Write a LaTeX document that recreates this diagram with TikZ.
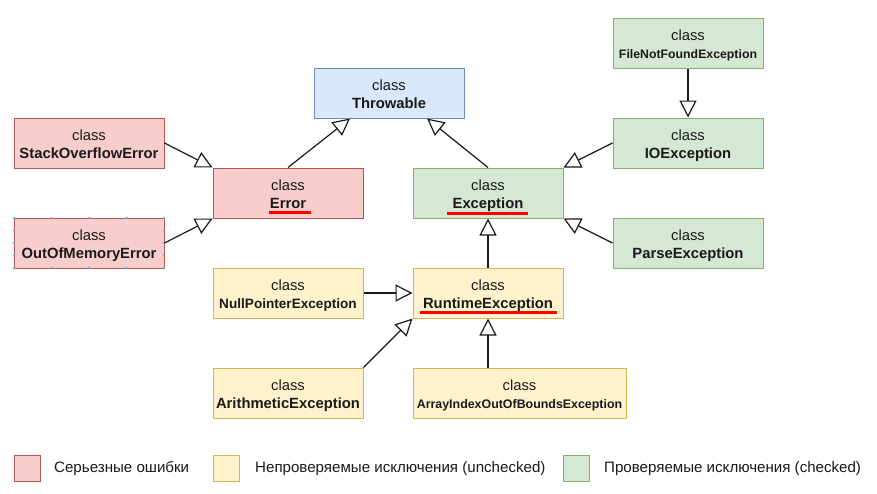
\documentclass[tikz,border=0pt]{standalone}
\usepackage{fontspec}
\setmainfont{Liberation Sans}
\usetikzlibrary{arrows.meta}
\definecolor{redF}{HTML}{F8CECC}\definecolor{redD}{HTML}{B85450}
\definecolor{bluF}{HTML}{DAE8FC}\definecolor{bluD}{HTML}{6C8EBF}
\definecolor{grnF}{HTML}{D5E8D4}\definecolor{grnD}{HTML}{82B366}
\definecolor{yelF}{HTML}{FFF2CC}\definecolor{yelD}{HTML}{D6B656}
\definecolor{selB}{HTML}{29B6F2}
\definecolor{txt}{HTML}{1A1A1A}
\newcommand\klass[2][14.8]{\rule{0pt}{16pt}class\\{\fontsize{#1}{18}\selectfont\textbf{#2}}\rule[-4pt]{0pt}{0pt}}
\begin{document}
\begin{tikzpicture}[x=1pt,y=-1pt,
  box/.style={rectangle, draw, line width=1pt, minimum width=150pt, minimum height=50pt,
    inner sep=0pt, align=center, font=\fontsize{14.8}{18}\selectfont, text=txt},
  redbox/.style={box, fill=redF, draw=redD},
  blubox/.style={box, fill=bluF, draw=bluD},
  grnbox/.style={box, fill=grnF, draw=grnD},
  yelbox/.style={box, fill=yelF, draw=yelD},
  inh/.style={draw=txt, line width=1.2pt, -{Triangle[open, length=17pt, width=17pt, fill=white]}},
  uline/.style={draw=red, line width=3pt},
  selpt/.style={fill=selB, inner sep=0pt, minimum size=2.2pt, circle},
  legsq/.style={rectangle, draw, line width=1pt, minimum size=26pt, inner sep=0pt},
  legtxt/.style={anchor=west, inner sep=0pt, font=\fontsize{15.1}{17}\selectfont, text=txt}]
\useasboundingbox (0,0) rectangle (877,493);
\fill[white] (0,0) rectangle (877,493);

% nodes
\node[blubox] (thr) at (389,93) {\klass{Throwable}};
\node[redbox] (soe) at (89,143) {\klass{StackOverflowError}};
\node[redbox] (oom) at (89,243) {\klass{OutOfMemoryError}};
\node[redbox] (err) at (288,193) {\klass{Error}};
\node[grnbox] (exc) at (488,193) {\klass{Exception}};
\node[grnbox] (fnf) at (688,43) {\klass[12.3]{FileNotFoundException}};
\node[grnbox] (io) at (688,143) {\klass{IOException}};
\node[grnbox] (parse) at (688,243) {\klass{ParseException}};
\node[yelbox] (npe) at (288,293) {\klass[13.6]{NullPointerException}};
\node[yelbox] (rt) at (488,293) {\klass{RuntimeException}};
\node[yelbox] (arith) at (288,393) {\klass{ArithmeticException}};
\node[yelbox, minimum width=213pt] (aio) at (519.5,393) {\klass[12.4]{ArrayIndexOutOfBoundsException}};

% selection handles on OutOfMemoryError
\foreach \xx in {14,51.5,89,126.5,164} {
  \node[selpt] at (\xx,218) {};
  \node[selpt] at (\xx,268) {};
}
\foreach \yy in {230.5,243,255.5} {
  \node[selpt] at (14,\yy) {};
  \node[selpt] at (164,\yy) {};
}

% underlines
\draw[uline] (269,212) -- (311,212);
\draw[uline] (447,213) -- (528,213);
\draw[uline] (420,312) -- (557,312);

% connectors
\draw[inh] (soe.east) -- (err.north west);
\draw[inh] (oom.east) -- (err.south west);
\draw[inh] (err.north) -- ([xshift=-39pt]thr.south);
\draw[inh] (exc.north) -- ([xshift=38pt]thr.south);
\draw[inh] (io.west) -- (exc.north east);
\draw[inh] (parse.west) -- (exc.south east);
\draw[inh] (fnf.south) -- (io.north);
\draw[inh] (rt.north) -- (exc.south);
\draw[inh] (npe.east) -- (rt.west);
\draw[inh] (arith.north east) -- (rt.south west);
\draw[inh] (rt.south |- aio.north) -- (rt.south);

% legend
\node[legsq, fill=redF, draw=redD] (lg1) at (27,468) {};
\node[legsq, fill=yelF, draw=yelD] (lg2) at (226,468) {};
\node[legsq, fill=grnF, draw=grnD] (lg3) at (576,468) {};
\node[legtxt] (lt1) at (54,469) {Серьезные ошибки};
\node[legtxt] (lt2) at (255,469) {Непроверяемые исключения (unchecked)};
\node[legtxt] (lt3) at (604,469) {Проверяемые исключения (checked)};
\end{tikzpicture}
\end{document}
